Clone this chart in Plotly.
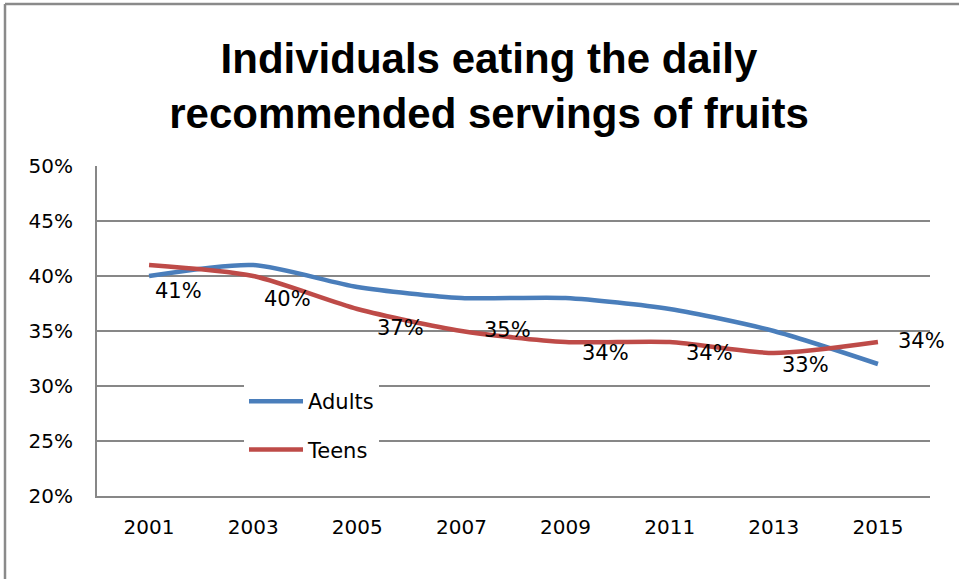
import plotly.graph_objects as go

years = ["2001", "2003", "2005", "2007", "2009", "2011", "2013", "2015"]
adults = [0.40, 0.41, 0.39, 0.38, 0.38, 0.37, 0.35, 0.32]
teens = [0.41, 0.40, 0.37, 0.35, 0.34, 0.34, 0.33, 0.34]
y_ticks = [0.20, 0.25, 0.30, 0.35, 0.40, 0.45, 0.50]
y_tick_labels = ["20%", "25%", "30%", "35%", "40%", "45%", "50%"]
title_lines = ["Individuals eating the daily", "recommended servings of fruits"]

# label offsets (px) for the Teens data labels
label_dx = [29, 34, 43, 46, 40, 40, 32, 44]
label_dy = [-26, -23, -19, 1, -11, -11, -12, 1]

BLUE = "#4A7EBB"
RED = "#BE4B48"
GRID = "#878787"
FONT = "DejaVu Sans"

W, H = 959, 579
L, R, T, B = 97, 29, 166, 83

fig = go.Figure()
fig.add_trace(go.Scatter(
    x=years, y=adults, name="Adults", mode="lines",
    line=dict(color=BLUE, width=4.5, shape="spline", smoothing=0.7),
    legendgroup="a",
))
fig.add_trace(go.Scatter(
    x=years, y=teens, name="Teens", mode="lines",
    line=dict(color=RED, width=4.5, shape="spline", smoothing=0.7),
    legendgroup="t",
))

for i, (v, dx, dy) in enumerate(zip(teens, label_dx, label_dy)):
    fig.add_annotation(
        x=i, y=v, xref="x", yref="y", text=f"{round(v*100)}%", showarrow=False,
        xshift=dx, yshift=dy, font=dict(family=FONT, size=21, color="#000000"),
    )

pw = W - L - R
ph = H - T - B
bx = (5 - L) / pw
by = (H - B - 4) / ph
ybot = (H - B - 600) / ph
fig.add_shape(type="line", xref="paper", yref="paper", x0=bx, x1=bx, y0=ybot, y1=by,
              line=dict(color="#8A8A8A", width=2.5))
fig.add_shape(type="line", xref="paper", yref="paper", x0=bx, x1=(W + 20 - L) / pw, y0=by, y1=by,
              line=dict(color="#8A8A8A", width=2.5))

fig.update_layout(
    width=W, height=H,
    margin=dict(l=L, r=R, t=T, b=B),
    paper_bgcolor="white", plot_bgcolor="white",
    title=dict(
        text="<br>".join(title_lines),
        font=dict(family="Liberation Sans", size=42, color="#000000", weight="bold"),
        x=489 / W, xanchor="center", xref="container",
        y=1 - 73 / H, yanchor="top", yref="container",
    ),
    showlegend=True,
    legend=dict(
        x=(244 - L) / pw, xanchor="left",
        y=(H - B - 381) / ph, yanchor="top",
        bgcolor="white", borderwidth=0,
        font=dict(family=FONT, size=21, color="#000000"),
        traceorder="grouped", tracegroupgap=18,
        itemwidth=54,
    ),
    xaxis=dict(
        type="category", range=[-0.5, len(years) - 0.5],
        showgrid=False, showline=True, linecolor=GRID, linewidth=2,
        ticks="", tickfont=dict(family=FONT, size=20, color="#000000"),
        ticklabelstandoff=12,
    ),
    yaxis=dict(
        range=[0.2, 0.5], tickvals=y_ticks, ticktext=y_tick_labels,
        showgrid=True, gridcolor=GRID, gridwidth=2,
        showline=True, linecolor=GRID, linewidth=2, zeroline=False,
        ticks="", tickfont=dict(family=FONT, size=20, color="#000000"),
        ticklabelstandoff=18,
    ),
)

fig.write_html("out.html", config={"displayModeBar": False},
               post_script="document.body.style.margin='0';")
